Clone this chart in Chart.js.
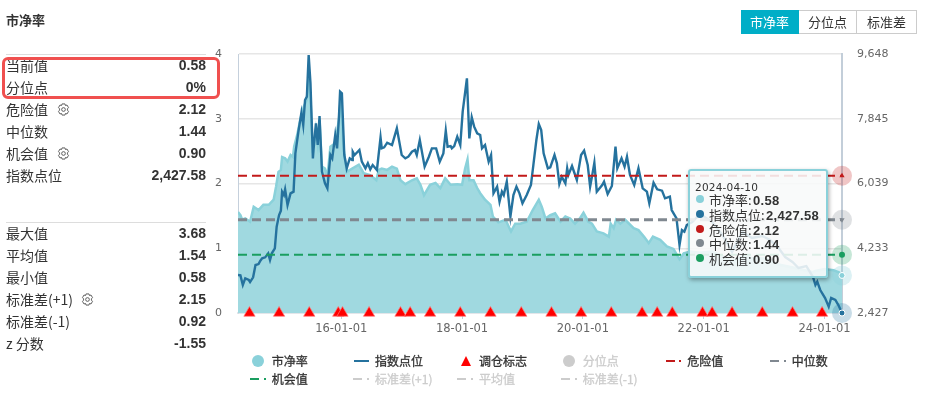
<!DOCTYPE html>
<html>
<head>
<meta charset="utf-8">
<script src="https://cdn.jsdelivr.net/npm/chart.js@4/dist/chart.umd.min.js"></script>
<style>
body { margin: 0; background: #fff; font-family: 'Noto Sans CJK SC', 'Liberation Sans', sans-serif; color: #333; }
#wrap { position: relative; width: 931px; height: 403px; overflow: hidden; }
#chart { position: absolute; left: 0; top: 0; }
.abs { position: absolute; white-space: nowrap; }
.title { left: 6px; top: 11px; font-size: 13px; font-weight: 700; line-height: 18px; }
.sep { left: 6px; width: 200px; height: 1px; background: #ddd; }
.rowName { left: 6px; font-size: 14px; line-height: 20px; color: #333; }
.rowVal { right: 725px; font: 700 14px/20px 'Liberation Sans', sans-serif; color: #333; }
.gear { position: absolute; width: 13px; height: 13px; }
.btns { left: 741px; top: 10px; display: flex; height: 24px; font-size: 13px; line-height: 24px; box-sizing: border-box; }
.btns div { width: 58px; text-align: center; border: 1px solid #ccc; border-left: 0; box-sizing: border-box; line-height: 22px; color: #333; }
.btns div.on { background: #00aec7; color: #fff; border-color: #00aec7; }
.leg { font-size: 12px; line-height: 16px; color: #333; -webkit-text-stroke: .3px #333; }
.leg.off { color: #ccc; -webkit-text-stroke: .3px #ccc; }
#tip { left: 688px; top: 169px; width: 136px; height: 105px; background: rgba(248,249,249,.88); border: 2px solid #8ad1da; border-radius: 3px; box-shadow: 1px 2px 4px rgba(0,0,0,.35); }
.tipDate { left: 5px; top: 9px; font: 10.5px/14px 'DejaVu Sans', sans-serif; letter-spacing: .2px; color: #333; }
.tipRow { left: 19px; font-size: 13px; line-height: 15px; color: #333; }
.tipRow b { font: 700 13px 'Liberation Sans', sans-serif; letter-spacing: .3px; margin-left: -1.5px; }
.tipDot { left: 6px; width: 8px; height: 8px; border-radius: 50%; }
</style>
</head>
<body>
<div id="wrap">
  <canvas id="chart" width="931" height="403"></canvas>
</div>
<script>
const tickYears = [2016, 2018, 2020, 2022, 2024];
const tickLabels = ['16-01-01', '18-01-01', '20-01-01', '22-01-01', '24-01-01'];
const leftTicks = [0, 1, 2, 3, 4];
const rightTicks = [2427.58, 4233, 6039, 7845, 9648];
const rightLabels = ['2,427', '4,233', '6,039', '7,845', '9,648'];

const pbYears = [2014.29, 2014.33, 2014.36, 2014.41, 2014.49, 2014.55, 2014.63, 2014.71, 2014.80, 2014.88, 2014.92, 2014.96, 2015.00, 2015.02, 2015.07, 2015.11, 2015.16, 2015.20, 2015.22, 2015.27, 2015.32, 2015.38, 2015.43, 2015.46, 2015.49, 2015.53, 2015.58, 2015.61, 2015.64, 2015.68, 2015.73, 2015.77, 2015.82, 2015.90, 2015.96, 2015.99, 2016.04, 2016.09, 2016.18, 2016.29, 2016.37, 2016.48, 2016.58, 2016.62, 2016.67, 2016.76, 2016.84, 2016.92, 2016.98, 2017.06, 2017.17, 2017.25, 2017.31, 2017.37, 2017.47, 2017.56, 2017.64, 2017.72, 2017.81, 2017.92, 2018.00, 2018.05, 2018.09, 2018.12, 2018.19, 2018.25, 2018.30, 2018.38, 2018.47, 2018.51, 2018.60, 2018.72, 2018.81, 2018.88, 2018.96, 2019.07, 2019.17, 2019.27, 2019.32, 2019.38, 2019.46, 2019.54, 2019.63, 2019.71, 2019.79, 2019.87, 2019.95, 2020.01, 2020.09, 2020.15, 2020.23, 2020.34, 2020.43, 2020.46, 2020.51, 2020.55, 2020.62, 2020.70, 2020.84, 2020.92, 2021.01, 2021.09, 2021.16, 2021.28, 2021.39, 2021.50, 2021.60, 2021.67, 2021.78, 2021.94, 2022.14, 2022.31, 2022.47, 2022.64, 2022.80, 2023.00, 2023.24, 2023.50, 2023.81, 2023.85, 2024.00, 2024.15, 2024.24, 2024.29];
const pbValues = [1.56, 1.51, 1.44, 1.46, 1.41, 1.64, 1.59, 1.67, 1.67, 1.75, 1.95, 2.18, 2.21, 2.41, 2.39, 2.34, 2.44, 2.41, 2.57, 2.75, 2.98, 3.19, 3.29, 3.68, 3.31, 2.47, 2.83, 2.62, 2.98, 2.26, 2.23, 2.10, 2.57, 2.62, 2.98, 3.29, 2.52, 2.18, 2.23, 2.29, 2.16, 2.13, 2.05, 2.21, 2.23, 2.21, 2.26, 2.23, 2.05, 1.99, 2.05, 2.08, 1.98, 1.82, 1.98, 2.01, 1.93, 2.08, 1.98, 1.99, 1.98, 2.23, 2.37, 2.05, 2.05, 1.93, 1.85, 1.75, 1.67, 1.49, 1.40, 1.44, 1.26, 1.38, 1.38, 1.41, 1.59, 1.75, 1.64, 1.46, 1.51, 1.54, 1.41, 1.49, 1.46, 1.38, 1.46, 1.55, 1.41, 1.38, 1.26, 1.23, 1.18, 1.38, 1.31, 1.44, 1.38, 1.44, 1.31, 1.28, 1.18, 1.08, 1.18, 1.13, 1.03, 0.99, 0.83, 0.92, 0.95, 0.93, 0.95, 0.88, 0.80, 0.87, 0.85, 0.84, 0.75, 0.70, 0.63, 0.65, 0.68, 0.66, 0.63, 0.58];

const indexYears = [2014.29, 2014.33, 2014.37, 2014.41, 2014.47, 2014.49, 2014.54, 2014.58, 2014.63, 2014.66, 2014.69, 2014.74, 2014.79, 2014.82, 2014.85, 2014.90, 2014.93, 2014.97, 2015.00, 2015.02, 2015.05, 2015.07, 2015.11, 2015.16, 2015.21, 2015.24, 2015.29, 2015.34, 2015.37, 2015.40, 2015.43, 2015.46, 2015.49, 2015.53, 2015.54, 2015.58, 2015.61, 2015.64, 2015.68, 2015.73, 2015.77, 2015.82, 2015.85, 2015.90, 2015.93, 2015.96, 2015.98, 2016.01, 2016.05, 2016.09, 2016.14, 2016.18, 2016.19, 2016.22, 2016.30, 2016.34, 2016.40, 2016.44, 2016.48, 2016.52, 2016.59, 2016.65, 2016.67, 2016.71, 2016.76, 2016.84, 2016.92, 2017.00, 2017.06, 2017.11, 2017.17, 2017.22, 2017.25, 2017.30, 2017.38, 2017.45, 2017.50, 2017.57, 2017.63, 2017.69, 2017.73, 2017.76, 2017.81, 2017.83, 2017.87, 2017.92, 2017.97, 2018.01, 2018.08, 2018.12, 2018.16, 2018.20, 2018.25, 2018.30, 2018.33, 2018.38, 2018.44, 2018.48, 2018.52, 2018.58, 2018.62, 2018.66, 2018.69, 2018.74, 2018.80, 2018.85, 2018.90, 2018.95, 2019.00, 2019.07, 2019.14, 2019.18, 2019.23, 2019.27, 2019.31, 2019.35, 2019.42, 2019.46, 2019.53, 2019.57, 2019.61, 2019.65, 2019.71, 2019.74, 2019.76, 2019.82, 2019.90, 2019.97, 2020.02, 2020.08, 2020.12, 2020.16, 2020.19, 2020.23, 2020.32, 2020.35, 2020.41, 2020.48, 2020.54, 2020.57, 2020.64, 2020.69, 2020.73, 2020.78, 2020.85, 2020.92, 2020.99, 2021.06, 2021.10, 2021.17, 2021.23, 2021.31, 2021.36, 2021.44, 2021.47, 2021.55, 2021.60, 2021.64, 2021.68, 2021.72, 2021.81, 2021.94, 2022.14, 2022.31, 2022.47, 2022.64, 2022.80, 2022.97, 2023.10, 2023.24, 2023.35, 2023.47, 2023.57, 2023.70, 2023.81, 2023.85, 2023.88, 2023.93, 2024.01, 2024.07, 2024.11, 2024.18, 2024.23, 2024.29];
const indexValues = [3486, 3477, 3208, 3394, 3347, 3291, 3422, 3765, 3793, 3886, 3951, 3979, 4091, 3905, 4091, 4230, 4834, 5159, 5280, 5810, 5717, 5875, 5438, 5763, 5810, 6878, 7482, 8012, 7668, 8365, 8458, 9620, 8830, 6739, 6971, 7715, 7111, 7919, 6367, 6042, 5903, 6832, 6739, 7390, 7018, 7854, 8598, 8551, 6832, 6460, 6739, 6692, 6925, 6832, 6971, 6646, 6460, 6600, 6432, 6553, 6414, 7325, 7018, 7046, 7176, 7111, 7575, 6832, 6739, 6785, 6925, 6971, 6832, 7250, 6507, 6785, 7018, 7018, 6646, 6878, 7510, 7064, 7083, 7018, 7083, 7343, 7111, 8040, 8969, 7297, 7882, 7622, 7436, 7390, 7018, 7111, 6646, 6832, 5763, 5949, 5531, 5810, 5717, 6088, 5113, 5717, 5949, 5763, 5484, 5717, 5996, 6553, 7250, 7696, 7529, 6878, 6460, 6488, 6832, 6600, 6023, 6228, 6042, 6460, 6274, 6525, 6135, 6832, 6953, 6553, 5949, 6321, 6618, 5810, 5996, 6088, 5745, 5968, 7064, 6460, 6739, 6507, 6785, 6274, 5996, 6460, 5903, 5810, 5484, 6061, 5875, 5838, 5624, 5670, 5299, 5066, 4323, 4741, 4694, 4880, 4964, 5187, 4964, 4602, 4128, 4685, 4518, 4574, 4462, 4239, 3988, 3849, 3682, 3737, 3431, 3208, 3300, 3068, 2845, 2603, 2845, 2790, 2650, 2427.58];

const rebalanceYears = [2014.48, 2014.97, 2015.47, 2015.95, 2016.02, 2016.46, 2016.98, 2017.14, 2017.47, 2017.97, 2018.47, 2018.98, 2019.48, 2019.97, 2020.47, 2020.98, 2021.23, 2021.48, 2021.98, 2022.14, 2022.47, 2022.97, 2023.47, 2023.96];

const dangerValue = 2.12;
const medianValue = 1.44;
const chanceValue = 0.90;
const currentPb = 0.58;
const currentIndex = 2427.58;

const topRows = [['当前值', '0.58'], ['分位点', '0%'], ['危险值', '2.12'], ['中位数', '1.44'], ['机会值', '0.90'], ['指数点位', '2,427.58']];
const bottomRows = [['最大值', '3.68'], ['平均值', '1.54'], ['最小值', '0.58'], ['标准差(+1)', '2.15'], ['标准差(-1)', '0.92'], ['z 分数', '-1.55']];
const buttons = ['市净率', '分位点', '标准差'];
const legendNames = ['市净率', '指数点位', '调仓标志', '分位点', '危险值', '中位数', '机会值', '标准差(+1)', '平均值', '标准差(-1)'];
const tipRows = [['市净率', '0.58'], ['指数点位', '2,427.58'], ['危险值', '2.12'], ['中位数', '1.44'], ['机会值', '0.90']];

const xMin = 2014.29, xMax = 2024.29;
const TEAL = '#8ad1da', BLUE = '#25729e', RED = '#c21a1a', GREY = '#808890', GREEN = '#1a9e60';

const wrap = document.getElementById('wrap');
function add(cls, text, style) {
    const el = document.createElement('div');
    el.className = 'abs ' + cls;
    if (text) el.textContent = text;
    if (style) Object.assign(el.style, style);
    wrap.append(el);
    return el;
}
function gear(x, y) {
    const ns = 'http://www.w3.org/2000/svg';
    const svg = document.createElementNS(ns, 'svg');
    svg.setAttribute('class', 'gear');
    svg.setAttribute('viewBox', '0 0 14 14');
    svg.style.left = x + 'px';
    svg.style.top = y + 'px';
    svg.innerHTML = '<path d="M5.4 1h3.2l.5 1.7 1.7-.5 1.6 2.8-1.2 1.3 0 1.4 1.2 1.3-1.6 2.8-1.7-.5-.5 1.7H5.4l-.5-1.7-1.7.5-1.6-2.8L2.8 7.7V6.3L1.6 5l1.6-2.8 1.7.5z" fill="none" stroke="#555" stroke-width="1"/><circle cx="7" cy="7" r="2" fill="none" stroke="#555" stroke-width="1"/>';
    wrap.append(svg);
}

add('title', '市净率');
add('sep', '', { top: '54px' });
add('sep', '', { top: '222px' });
topRows.forEach((r, i) => {
    const y = 55 + i * 22;
    add('rowName', r[0], { top: y + 'px' });
    add('rowVal', r[1], { top: y + 'px' });
});
bottomRows.forEach((r, i) => {
    const y = 223 + i * 22;
    add('rowName', r[0], { top: y + 'px' });
    add('rowVal', r[1], { top: y + 'px' });
});
gear(57, 103);
gear(57, 147);
gear(81, 293);
add('', '', { left: '2px', top: '57px', width: '212px', height: '36px', border: '3px solid #f0504f', borderRadius: '6px' });

const btns = add('btns');
buttons.forEach((b, i) => {
    const d = document.createElement('div');
    d.textContent = b;
    if (i === 0) d.className = 'on';
    if (i === 2) d.style.width = '60px';
    btns.append(d);
});

// legend, two rows of six columns
const legendX = [271.7, 375, 479, 582.7, 687.3, 791.7, 271.7, 375, 479, 582.7];
const legendIcon = ['circle', 'line', 'tri', 'circle', 'dash', 'dash', 'dash', 'dash', 'dash', 'dash'];
const legendColor = [TEAL, BLUE, '#f00', '#ccc', RED, GREY, GREEN, '#ccc', '#ccc', '#ccc'];
const legendOff = [3, 7, 8, 9];
legendNames.forEach((name, i) => {
    const y = i < 6 ? 352.5 : 371;
    const x = legendX[i];
    add('leg' + (legendOff.includes(i) ? ' off' : ''), name, { left: x + 'px', top: y + 'px' });
    const c = legendColor[i];
    if (legendIcon[i] === 'circle') {
        add('', '', { left: x - 20 + 'px', top: y + 2 + 'px', width: '12px', height: '12px', borderRadius: '50%', background: c });
    } else if (legendIcon[i] === 'line') {
        add('', '', { left: x - 21 + 'px', top: y + 7 + 'px', width: '15px', height: '2px', background: c });
    } else if (legendIcon[i] === 'tri') {
        add('', '', { left: x - 18 + 'px', top: y + 3 + 'px', width: 0, height: 0, borderLeft: '5px solid transparent', borderRight: '5px solid transparent', borderBottom: '10px solid ' + c });
    } else {
        add('', '', { left: x - 21.7 + 'px', top: y + 7 + 'px', width: '9px', height: '2px', background: c });
        add('', '', { left: x - 8 + 'px', top: y + 7 + 'px', width: '2px', height: '2px', background: c });
    }
});

function level(value, color, width) {
    return {
        type: 'line',
        data: [{ x: xMin, y: value }, { x: xMax, y: value }],
        borderColor: color,
        borderWidth: width,
        borderDash: [9, 5],
        pointRadius: 0,
        yAxisID: 'y'
    };
}
function endMark(value, axis, color, halo, style, rotation, white) {
    return [
        {
            type: 'scatter',
            data: [{ x: xMax, y: value }],
            yAxisID: axis,
            clip: false,
            pointStyle: style,
            rotation: rotation,
            pointRadius: 3,
            backgroundColor: color,
            borderColor: white ? '#fff' : color,
            borderWidth: white ? 1 : 0
        },
        {
            type: 'scatter',
            data: [{ x: xMax, y: value }],
            yAxisID: axis,
            clip: false,
            pointRadius: 10,
            backgroundColor: halo,
            borderWidth: 0
        }
    ];
}

const fixedWidth = (w) => (scale) => { scale.width = w; };
const axisFont = { family: 'DejaVu Sans', size: 11 };

new Chart(document.getElementById('chart').getContext('2d'), {
    type: 'line',
    data: {
        datasets: [
            ...endMark(dangerValue, 'y', RED, 'rgba(194,26,26,.25)', 'triangle', 0, false),
            ...endMark(medianValue, 'y', GREY, 'rgba(128,136,144,.25)', 'triangle', 180, false),
            ...endMark(chanceValue, 'y', GREEN, 'rgba(26,158,96,.25)', 'circle', 0, false),
            ...endMark(currentPb, 'y', TEAL, 'rgba(138,209,218,.3)', 'circle', 0, true),
            ...endMark(currentIndex, 'y2', BLUE, 'rgba(37,114,158,.25)', 'circle', 0, true),
            {
                type: 'scatter',
                data: rebalanceYears.map((x) => ({ x: x, y: 0 })),
                yAxisID: 'y',
                clip: false,
                pointStyle: 'triangle',
                pointRadius: 6.5,
                backgroundColor: '#f00',
                borderColor: 'rgba(255,120,120,.7)',
                borderWidth: 1
            },
            level(dangerValue, RED, 2.2),
            level(medianValue, GREY, 3),
            level(chanceValue, GREEN, 2),
            {
                type: 'line',
                data: indexYears.map((x, i) => ({ x: x, y: indexValues[i] })),
                yAxisID: 'y2',
                borderColor: BLUE,
                borderWidth: 2.4,
                pointRadius: 0,
                tension: 0
            },
            {
                type: 'line',
                data: pbYears.map((x, i) => ({ x: x, y: pbValues[i] })),
                yAxisID: 'y',
                borderColor: TEAL,
                borderWidth: 2.5,
                backgroundColor: '#a0d9e0',
                fill: 'origin',
                pointRadius: 0,
                tension: 0
            }
        ]
    },
    options: {
        responsive: false,
        devicePixelRatio: 1,
        animation: false,
        parsing: false,
        layout: { padding: { top: 54 } },
        plugins: { legend: { display: false }, tooltip: { enabled: false } },
        scales: {
            x: {
                type: 'linear',
                min: xMin,
                max: xMax,
                afterBuildTicks: (scale) => { scale.ticks = tickYears.map((v) => ({ value: v })); },
                afterFit: (scale) => { scale.height = 90; },
                grid: { drawOnChartArea: false, tickLength: 6, tickColor: '#c5d0dc' },
                border: { color: '#e3e6ea', width: 2 },
                ticks: {
                    autoSkip: false,
                    maxRotation: 0,
                    padding: 3,
                    color: '#666',
                    font: { family: 'DejaVu Sans', size: 11.5 },
                    callback: (v) => tickLabels[tickYears.indexOf(v)]
                }
            },
            y: {
                position: 'left',
                min: 0,
                max: 4,
                afterBuildTicks: (scale) => { scale.ticks = leftTicks.map((v) => ({ value: v })); },
                afterFit: fixedWidth(238),
                grid: { color: '#e6e6e6', lineWidth: 1.5, drawTicks: false },
                border: { color: '#c5d0dc', width: 1 },
                ticks: { padding: 16, color: '#666', font: axisFont }
            },
            y2: {
                position: 'right',
                min: 2427.58,
                max: 9648,
                afterBuildTicks: (scale) => { scale.ticks = rightTicks.map((v) => ({ value: v })); },
                afterFit: fixedWidth(89),
                grid: { drawOnChartArea: false, drawTicks: false },
                border: { color: '#c3ced9', width: 2 },
                ticks: {
                    padding: 15,
                    color: '#666',
                    font: axisFont,
                    callback: (v) => rightLabels[rightTicks.indexOf(v)]
                }
            }
        }
    }
});

// tooltip stays open on the last date
const tip = add('', '', {});
tip.id = 'tip';
const tipDate = document.createElement('div');
tipDate.className = 'abs tipDate';
tipDate.textContent = '2024-04-10';
tip.append(tipDate);
const tipColors = [TEAL, BLUE, RED, GREY, GREEN];
tipRows.forEach((r, i) => {
    const y = 21 + i * 14.8;
    const dot = document.createElement('div');
    dot.className = 'abs tipDot';
    dot.style.top = y + 3 + 'px';
    dot.style.background = tipColors[i];
    const row = document.createElement('div');
    row.className = 'abs tipRow';
    row.style.top = y + 'px';
    row.innerHTML = r[0] + ': <b>' + r[1] + '</b>';
    tip.append(dot, row);
});
</script>
</body>
</html>
